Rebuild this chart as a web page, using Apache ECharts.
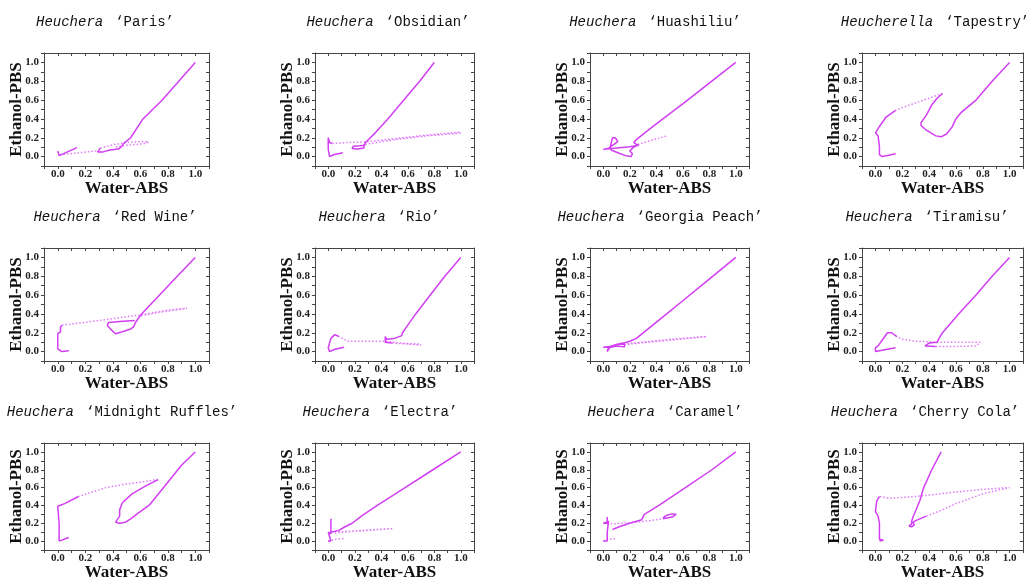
<!DOCTYPE html>
<html>
<head>
<meta charset="utf-8">
<script src="https://cdn.jsdelivr.net/npm/echarts@6/dist/echarts.min.js"></script>
<style>html,body{margin:0;padding:0;background:#fff}#c{width:1026px;height:582px}</style>
</head>
<body>
<div id="c"></div>
<script>
// ---- data ----
const genus = ['Heuchera','Heuchera','Heuchera','Heucherella','Heuchera','Heuchera','Heuchera','Heuchera','Heuchera','Heuchera','Heuchera','Heuchera'];
const cultivars = ['Paris','Obsidian','Huashiliu','Tapestry','Red Wine','Rio','Georgia Peach','Tiramisu','Midnight Ruffles','Electra','Caramel','Cherry Cola'];
const xName = 'Water-ABS';
const yName = 'Ethanol-PBS';
const tickValues = [0.0,0.2,0.4,0.6,0.8,1.0];

const parisDense = [[1.0,1.0],[0.88,0.8],[0.76,0.6],[0.62,0.4],[0.53,0.2],[0.48,0.14],[0.46,0.1],[0.44,0.08],[0.38,0.07],[0.33,0.05],[0.29,0.05],[0.28,0.07],[0.31,0.09],null,[0.0,0.06],[0.01,0.01],[0.02,0.03],[0.14,0.095]];
const parisSparse = [[0.31,0.09],[0.40,0.125],[0.50,0.15],[0.60,0.16],[0.66,0.155],[0.62,0.135],[0.50,0.12],[0.42,0.1],null,[0.28,0.06],[0.15,0.04],[0.05,0.025],[0.01,0.02]];

const obsidianDense = [[0.8,1.0],[0.69,0.8],[0.57,0.6],[0.45,0.4],[0.36,0.26],[0.31,0.19],[0.28,0.15],[0.27,0.12],[0.27,0.09],[0.22,0.08],[0.18,0.085],[0.19,0.11],[0.24,0.115],[0.28,0.12],null,[0.11,0.04],[0.04,0.02],[0.01,0.0],[0.0,0.08],[0.0,0.2],[0.01,0.15],[0.03,0.14]];
const obsidianSparse = [[0.03,0.14],[0.15,0.15],[0.27,0.155],[0.5,0.19],[0.75,0.23],[1.0,0.26],null,[0.28,0.13],[0.5,0.18],[0.75,0.22],[1.0,0.25]];

const huashiliuDense = [[1.0,1.0],[0.8,0.78],[0.6,0.56],[0.44,0.39],[0.32,0.26],[0.25,0.18],[0.23,0.15],[0.25,0.13],[0.27,0.12],[0.2,0.105],[0.1,0.09],[0.02,0.08],[0.0,0.075],[0.05,0.09],[0.07,0.2],[0.09,0.2],[0.11,0.16],[0.08,0.13],[0.05,0.1],[0.06,0.07],[0.12,0.035],[0.18,0.005],[0.21,0.0],[0.22,0.03],[0.2,0.06],[0.23,0.1],[0.26,0.12]];
const huashiliuSparse = [[0.26,0.13],[0.36,0.17],[0.48,0.22]];

const tapestryDense = [[1.0,1.0],[0.87,0.8],[0.75,0.6],[0.64,0.47],[0.6,0.4],[0.57,0.31],[0.53,0.24],[0.49,0.21],[0.48,0.2],[0.45,0.22],[0.38,0.28],[0.34,0.33],[0.34,0.36],[0.38,0.44],[0.42,0.55],[0.46,0.62],[0.5,0.67],null,[0.15,0.49],[0.08,0.42],[0.03,0.32],[0.0,0.25],[0.02,0.22],[0.03,0.1],[0.03,0.02],[0.05,0.0],[0.1,0.015],[0.15,0.03]];
const tapestrySparse = [[0.5,0.67],[0.4,0.62],[0.3,0.57],[0.2,0.52],[0.15,0.49]];

const redWineDense = [[1.0,1.0],[0.85,0.77],[0.72,0.57],[0.63,0.43],[0.6,0.38],[0.57,0.32],[0.55,0.26],[0.53,0.24],[0.47,0.21],[0.42,0.19],[0.39,0.23],[0.36,0.28],[0.37,0.31],[0.45,0.32],[0.56,0.33],null,[0.08,0.01],[0.03,0.0],[0.0,0.03],[0.0,0.19],[0.02,0.21],[0.02,0.26],[0.03,0.28]];
const redWineSparse = [[0.03,0.28],[0.2,0.31],[0.4,0.35],[0.6,0.39],[0.8,0.44],[0.94,0.46],[0.9,0.45],[0.75,0.42],[0.6,0.38]];

const rioDense = [[1.0,1.0],[0.88,0.8],[0.77,0.6],[0.66,0.4],[0.59,0.26],[0.56,0.2],[0.555,0.17],[0.56,0.15],[0.5,0.14],[0.44,0.13],[0.43,0.16],[0.43,0.1],[0.48,0.09],null,[0.12,0.045],[0.05,0.025],[0.01,0.0],[0.0,0.04],[0.02,0.14],[0.05,0.18],[0.08,0.16]];
const rioSparse = [[0.48,0.09],[0.6,0.08],[0.7,0.07],[0.68,0.08],[0.55,0.09],[0.45,0.11],[0.3,0.11],[0.15,0.11],[0.08,0.16]];

const georgiaDense = [[1.0,1.0],[0.8,0.77],[0.6,0.54],[0.46,0.38],[0.32,0.22],[0.25,0.14],[0.2,0.11],[0.15,0.09],[0.1,0.075],[0.05,0.055],[0.0,0.045],[0.05,0.045],[0.03,0.0],[0.04,0.04],[0.1,0.06],[0.16,0.05],[0.16,0.08],[0.1,0.075]];
const georgiaSparse = [[0.1,0.075],[0.3,0.1],[0.5,0.13],[0.78,0.16],[0.78,0.15],[0.5,0.12],[0.3,0.095],[0.15,0.07]];

const tiramisuDense = [[1.0,1.0],[0.87,0.8],[0.75,0.6],[0.62,0.4],[0.5,0.2],[0.47,0.13],[0.46,0.1],[0.4,0.09],[0.37,0.06],[0.45,0.055],null,[0.15,0.04],[0.05,0.015],[0.0,0.0],[0.0,0.04],[0.02,0.06],[0.05,0.12],[0.09,0.2],[0.12,0.2],[0.16,0.16]];
const tiramisuSparse = [[0.45,0.055],[0.6,0.055],[0.75,0.06],[0.78,0.1],[0.6,0.1],[0.46,0.1],[0.3,0.11],[0.2,0.13],[0.16,0.16]];

const ruffleDense = [[1.0,1.0],[0.9,0.85],[0.78,0.62],[0.67,0.41],[0.59,0.32],[0.53,0.25],[0.49,0.21],[0.45,0.2],[0.42,0.21],[0.43,0.23],[0.45,0.28],[0.45,0.35],[0.47,0.43],[0.54,0.53],[0.64,0.62],[0.73,0.69],null,[0.15,0.5],[0.05,0.42],[0.0,0.39],[0.01,0.38],[0.01,0.2],[0.01,0.0],[0.08,0.04]];
const ruffleSparse = [[0.73,0.69],[0.6,0.66],[0.5,0.64],[0.35,0.6],[0.25,0.55],[0.15,0.5]];

const electraDense = [[1.0,1.0],[0.79,0.8],[0.58,0.6],[0.37,0.4],[0.25,0.28],[0.18,0.2],[0.12,0.155],[0.08,0.12],[0.02,0.1],null,[0.02,0.25],[0.02,0.08],[0.0,0.1],[0.02,0.0],[0.0,0.0]];
const electraSparse = [[0.05,0.1],[0.2,0.115],[0.35,0.13],[0.49,0.14],[0.35,0.125],[0.2,0.11],[0.05,0.09],null,[0.0,0.0],[0.06,0.02],[0.13,0.03]];

const caramelDense = [[1.0,1.0],[0.82,0.8],[0.62,0.6],[0.42,0.4],[0.31,0.3],[0.29,0.24],[0.2,0.2],[0.12,0.16],[0.07,0.13],null,[0.45,0.26],[0.48,0.29],[0.52,0.305],[0.55,0.3],[0.52,0.27],[0.45,0.25],null,[0.03,0.27],[0.03,0.2],[0.0,0.2],[0.04,0.22],[0.03,0.1],[0.03,0.0],[0.0,0.0]];
const caramelSparse = [[0.03,0.19],[0.15,0.2],[0.3,0.22],[0.45,0.25],null,[0.0,0.0],[0.05,0.02],[0.1,0.03]];

const cherryDense = [[0.49,1.0],[0.42,0.8],[0.36,0.6],[0.33,0.45],[0.3,0.34],[0.28,0.27],[0.27,0.22],[0.27,0.19],[0.25,0.17],[0.24,0.16],[0.27,0.16],[0.29,0.18],[0.28,0.21],[0.3,0.23],[0.38,0.28],null,[0.03,0.5],[0.01,0.45],[0.0,0.33],[0.02,0.28],[0.03,0.2],[0.03,0.02],[0.06,0.01],[0.03,0.0]];
const cherrySparse = [[0.38,0.28],[0.5,0.35],[0.6,0.42],[0.8,0.53],[1.0,0.6],[0.8,0.58],[0.6,0.55],[0.3,0.5],[0.1,0.48],[0.03,0.5]];

const denseSets = [parisDense,obsidianDense,huashiliuDense,tapestryDense,redWineDense,rioDense,georgiaDense,tiramisuDense,ruffleDense,electraDense,caramelDense,cherryDense];
const sparseSets = [parisSparse,obsidianSparse,huashiliuSparse,tapestrySparse,redWineSparse,rioSparse,georgiaSparse,tiramisuSparse,ruffleSparse,electraSparse,caramelSparse,cherrySparse];

// ---- layout ----
const colLeft = [44, 315, 590, 862];
const colWidth = [165, 159, 159, 162];
const rowTop = [53, 248, 443];
const plotH = 113;
const titleX = [105, 388, 655, 935, 115, 379, 660, 927, 122, 380, 665, 925];
const titleY = [22, 217, 412];

const C_DENSE = '#d23ef2';
const C_SPARSE = '#e07cf8';
const serif = '"Liberation Serif","Times New Roman",serif';
const mono = '"Liberation Mono","Courier New",monospace';

const toSeg = arr => arr.map(p => p === null ? ['-','-'] : p);

const grid = [], xAxis = [], yAxis = [], series = [], graphic = [];
const labelFmt = v => {
  const r = Math.round(v * 10);
  return (r >= 0 && r <= 10 && r % 2 === 0 && tickValues.indexOf(r/10) >= 0) ? (r/10).toFixed(1) : '';
};
for (let i = 0; i < 12; i++) {
  const r = Math.floor(i / 4), c = i % 4;
  grid.push({left: colLeft[c], top: rowTop[r], width: colWidth[c], height: plotH, containLabel: false});
  const axLine = {show: true, onZero: false, lineStyle: {color: '#444', width: 1}};
  const baseX = {type: 'value', gridIndex: i, min: -0.1, max: 1.1, interval: 0.1, splitLine: {show: false}, axisLine: axLine};
  xAxis.push(Object.assign({}, baseX, {
    position: 'bottom',
    axisTick: {show: true, inside: false, length: 3, lineStyle: {color: '#444'}},
    axisLabel: {formatter: labelFmt, fontFamily: serif, fontWeight: 'bold', fontSize: 11, color: '#222', margin: 3},
    name: xName, nameLocation: 'middle', nameGap: 14, nameMoveOverlap: false,
    nameTextStyle: {fontFamily: serif, fontWeight: 'bold', fontSize: 17, color: '#111'}
  }));
  xAxis.push(Object.assign({}, baseX, {
    position: 'top', axisTick: {show: true, inside: true, length: 3, lineStyle: {color: '#444'}},
    axisLabel: {show: false}
  }));
  const baseY = {type: 'value', gridIndex: i, min: -0.1, max: 1.1, interval: 0.1, splitLine: {show: false}, axisLine: axLine};
  yAxis.push(Object.assign({}, baseY, {
    position: 'left',
    axisTick: {show: true, inside: false, length: 3, lineStyle: {color: '#444'}},
    axisLabel: {formatter: labelFmt, fontFamily: serif, fontWeight: 'bold', fontSize: 11, color: '#222', margin: 5},
    name: yName, nameLocation: 'middle', nameGap: 19, nameRotate: 90, nameMoveOverlap: false,
    nameTextStyle: {fontFamily: serif, fontWeight: 'bold', fontSize: 17, color: '#111'}
  }));
  yAxis.push(Object.assign({}, baseY, {
    position: 'right', axisTick: {show: true, inside: true, length: 3, lineStyle: {color: '#444'}},
    axisLabel: {show: false}
  }));
  series.push({
    type: 'line', xAxisIndex: 2*i, yAxisIndex: 2*i, data: toSeg(sparseSets[i]),
    symbol: 'none', connectNulls: false, clip: true,
    lineStyle: {color: C_SPARSE, width: 1.5, type: [1.5, 2]}
  });
  series.push({
    type: 'line', xAxisIndex: 2*i, yAxisIndex: 2*i, data: toSeg(denseSets[i]),
    symbol: 'none', connectNulls: false, clip: true,
    lineStyle: {color: C_DENSE, width: 1.5}
  });
  graphic.push({
    type: 'text', x: titleX[i], y: titleY[r],
    style: {
      text: '{g|' + genus[i] + '}  {c|‘' + cultivars[i] + '’}',
      align: 'center', verticalAlign: 'middle',
      rich: {
        g: {fontFamily: mono, fontStyle: 'italic', fontSize: 14, fill: '#111'},
        c: {fontFamily: mono, fontSize: 14, fill: '#111'}
      },
      fontFamily: mono, fontSize: 10, fill: '#111'
    }
  });
}

const chart = echarts.init(document.getElementById('c'), null, {renderer: 'canvas'});
chart.setOption({animation: false, backgroundColor: '#fff', grid, xAxis, yAxis, series, graphic});
</script>
</body>
</html>
